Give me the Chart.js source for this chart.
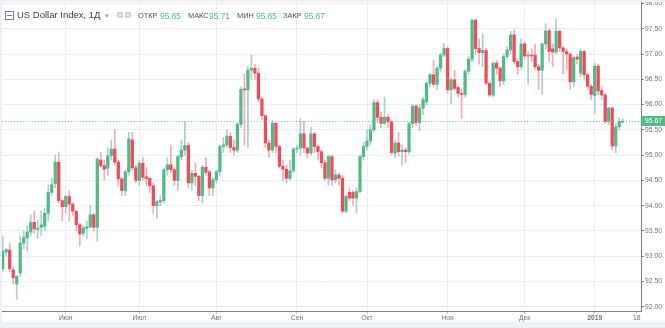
<!DOCTYPE html>
<html>
<head>
<meta charset="utf-8">
<script src="https://cdn.jsdelivr.net/npm/chart.js@4.4.1/dist/chart.umd.min.js"></script>
<style>
html,body{margin:0;padding:0;width:665px;height:328px;overflow:hidden;background:#edf0f4;font-family:"Liberation Sans",Arial,sans-serif;}
#wrap{position:absolute;left:2px;top:2px;width:663px;height:320px;background:#fff;}
#chart{position:absolute;left:0;top:0;}
#legend{position:absolute;left:0;top:0;width:400px;height:26px;}
#legend span{position:absolute;white-space:nowrap;line-height:12px;}
.t{font-size:9.5px;color:#3a3d45;top:7px;}
.k{font-size:7.4px;color:#4a4d55;top:8px;}
.v{font-size:8.4px;color:#53b987;top:7.5px;}
#mbox{position:absolute;left:3px;top:9px;width:7px;height:7px;border:1px solid #7d808a;}
#mbox:after{content:"";position:absolute;left:1px;top:3px;width:5px;height:1px;background:#7d808a;}
.ib{position:absolute;top:10px;width:6px;height:6px;background:#cfd2d8;}
.ib:after{content:"";position:absolute;left:2px;top:2px;width:2px;height:2px;background:#f3f4f6;}
</style>
</head>
<body>
<div id="wrap">
  <canvas id="chart" width="663" height="320"></canvas>
  <div id="legend">
    <div id="mbox"></div>
    <span class="t" style="left:15px">US Dollar Index, 1Д</span>
    <span class="t" style="left:103px;color:#9a9da5;font-size:7px;top:8px">▾</span>
    <div class="ib" style="left:115px"></div>
    <div class="ib" style="left:123px"></div>
    <span class="k" style="left:136px">ОТКР</span><span class="v" style="left:158px" id="vo"></span>
    <span class="k" style="left:186px">МАКС</span><span class="v" style="left:207px" id="vh"></span>
    <span class="k" style="left:235px">МИН</span><span class="v" style="left:254px" id="vl"></span>
    <span class="k" style="left:281px">ЗАКР</span><span class="v" style="left:302px" id="vc"></span>
  </div>
</div>
<script>
// ---- data ----
const dates = [
'2018-05-08','2018-05-09','2018-05-10','2018-05-11','2018-05-14','2018-05-15','2018-05-16','2018-05-17','2018-05-18','2018-05-21','2018-05-22','2018-05-23','2018-05-24','2018-05-25','2018-05-28','2018-05-29','2018-05-30','2018-05-31',
'2018-06-01','2018-06-04','2018-06-05','2018-06-06','2018-06-07','2018-06-08','2018-06-11','2018-06-12','2018-06-13','2018-06-14','2018-06-15','2018-06-18','2018-06-19','2018-06-20','2018-06-21','2018-06-22','2018-06-25','2018-06-26','2018-06-27','2018-06-28','2018-06-29',
'2018-07-02','2018-07-03','2018-07-04','2018-07-05','2018-07-06','2018-07-09','2018-07-10','2018-07-11','2018-07-12','2018-07-13','2018-07-16','2018-07-17','2018-07-18','2018-07-19','2018-07-20','2018-07-23','2018-07-24','2018-07-25','2018-07-26','2018-07-27','2018-07-30','2018-07-31',
'2018-08-01','2018-08-02','2018-08-03','2018-08-06','2018-08-07','2018-08-08','2018-08-09','2018-08-10','2018-08-13','2018-08-14','2018-08-15','2018-08-16','2018-08-17','2018-08-20','2018-08-21','2018-08-22','2018-08-23','2018-08-24','2018-08-27','2018-08-28','2018-08-29','2018-08-30','2018-08-31',
'2018-09-03','2018-09-04','2018-09-05','2018-09-06','2018-09-07','2018-09-10','2018-09-11','2018-09-12','2018-09-13','2018-09-14','2018-09-17','2018-09-18','2018-09-19','2018-09-20','2018-09-21','2018-09-24','2018-09-25','2018-09-26','2018-09-27','2018-09-28',
'2018-10-01','2018-10-02','2018-10-03','2018-10-04','2018-10-05','2018-10-08','2018-10-09','2018-10-10','2018-10-11','2018-10-12','2018-10-15','2018-10-16','2018-10-17','2018-10-18','2018-10-19','2018-10-22','2018-10-23','2018-10-24','2018-10-25','2018-10-26','2018-10-29','2018-10-30','2018-10-31',
'2018-11-01','2018-11-02','2018-11-05','2018-11-06','2018-11-07','2018-11-08','2018-11-09','2018-11-12','2018-11-13','2018-11-14','2018-11-15','2018-11-16','2018-11-19','2018-11-20','2018-11-21','2018-11-22','2018-11-23','2018-11-26','2018-11-27','2018-11-28','2018-11-29','2018-11-30',
'2018-12-03','2018-12-04','2018-12-05','2018-12-06','2018-12-07','2018-12-10','2018-12-11','2018-12-12','2018-12-13','2018-12-14','2018-12-17','2018-12-18','2018-12-19','2018-12-20','2018-12-21','2018-12-24','2018-12-26','2018-12-27','2018-12-28','2018-12-31',
'2019-01-02','2019-01-03','2019-01-04','2019-01-07','2019-01-08','2019-01-09','2019-01-10','2019-01-11','2019-01-14'
];
const openV = [
92.75,93.08,93.12,92.73,92.45,92.67,93.26,93.36,93.48,93.67,93.53,93.57,93.59,93.85,94.26,94.43,94.86,94.10,
93.98,94.18,94.03,93.89,93.62,93.45,93.55,93.58,93.82,93.57,94.90,94.79,94.74,94.99,95.12,94.86,94.53,94.30,94.67,95.30,94.75,
94.50,94.84,94.57,94.54,94.39,94.00,94.07,94.10,94.71,94.81,94.71,94.50,94.97,95.10,95.19,94.45,94.64,94.58,94.20,94.76,94.67,94.35,
94.51,94.67,95.17,95.20,95.37,95.15,95.10,95.61,96.30,96.29,96.68,96.72,96.62,96.11,95.78,95.24,95.10,95.63,95.17,94.78,94.72,94.54,94.69,
95.12,95.14,95.42,95.14,95.04,95.42,95.17,95.07,94.85,94.54,94.97,94.51,94.61,94.54,93.89,94.26,94.26,94.15,94.28,94.97,
95.17,95.28,95.50,96.04,95.75,95.63,95.75,95.66,95.04,95.24,95.07,95.10,95.07,95.62,95.97,95.64,95.93,96.05,96.42,96.59,96.40,96.72,96.98,
97.11,96.29,96.49,96.34,96.22,96.20,96.66,96.90,97.67,97.11,97.03,97.07,96.42,96.19,96.82,96.72,96.47,96.95,97.08,97.38,96.85,96.75,
97.20,96.96,96.98,96.98,96.75,96.68,97.20,97.46,97.10,97.04,97.45,97.12,97.05,97.00,96.45,96.94,96.62,97.05,96.59,96.36,
96.18,96.76,96.28,96.19,95.66,95.93,95.18,95.56,95.65
];
const highV = [
93.40,93.15,93.25,92.78,92.62,93.40,93.50,93.60,93.82,93.90,93.70,93.90,93.95,94.40,94.55,95.00,95.05,94.12,
94.20,94.30,94.05,93.90,93.65,93.60,93.70,94.00,93.85,94.95,95.05,94.90,95.15,95.30,95.50,94.90,94.55,94.70,95.45,95.45,94.80,
94.90,94.95,94.75,94.55,94.45,94.10,94.20,94.75,94.95,95.20,94.75,95.00,95.30,95.67,95.25,94.70,94.85,94.60,94.80,94.95,94.70,94.55,
94.70,95.20,95.35,95.50,95.45,95.30,95.65,96.35,96.60,96.75,96.98,96.80,96.72,96.15,95.80,95.30,95.68,95.65,95.20,94.90,94.80,94.90,95.15,
95.20,95.72,95.67,95.15,95.55,95.45,95.20,95.10,94.90,95.00,95.00,94.70,94.65,94.60,94.22,94.35,94.30,94.35,95.00,95.25,
95.50,95.60,96.10,96.10,95.85,96.15,95.80,95.70,95.30,95.45,95.20,95.15,95.66,96.00,96.00,96.00,96.15,96.45,96.62,96.88,96.76,97.02,97.21,
97.15,96.53,96.68,96.36,96.30,96.70,96.95,97.70,97.69,97.30,97.40,97.12,96.45,96.85,96.88,96.75,97.00,97.15,97.45,97.48,96.90,97.30,
97.25,97.05,97.10,97.20,96.80,97.22,97.60,97.50,97.20,97.70,97.48,97.15,97.10,97.02,96.97,97.00,97.10,97.08,96.62,96.40,
96.82,96.80,96.35,96.22,95.95,95.96,95.62,95.73,95.71
];
const lowV = [
92.70,93.00,92.70,92.45,92.15,92.60,93.15,93.10,93.40,93.45,93.35,93.40,93.50,93.70,94.20,94.35,94.05,93.70,
93.85,93.70,93.80,93.50,93.20,93.40,93.35,93.55,93.50,93.30,94.75,94.50,94.60,94.90,94.80,94.40,94.20,94.20,94.60,94.70,94.45,
94.40,94.50,94.40,94.25,93.85,93.75,94.00,94.05,94.60,94.65,94.40,94.30,94.90,95.00,94.35,94.30,94.40,94.10,94.05,94.60,94.20,94.20,
94.45,94.60,95.05,95.15,95.05,95.00,95.05,95.55,95.20,95.15,96.50,96.50,96.05,95.70,95.15,94.95,95.05,95.05,94.75,94.50,94.45,94.50,94.65,
95.05,95.00,95.05,94.95,95.00,95.05,94.90,94.75,94.50,94.40,94.40,94.45,94.40,93.85,93.85,94.10,94.00,93.85,94.25,94.90,
95.10,95.20,95.45,95.65,95.55,95.60,95.55,95.00,94.95,94.97,94.80,94.85,95.02,95.55,95.58,95.48,95.80,96.00,96.35,96.35,96.30,96.65,96.95,
96.22,96.02,96.28,96.15,95.72,96.15,96.60,96.85,97.00,96.80,96.75,96.38,96.15,96.15,96.60,96.35,96.40,96.90,97.00,96.80,96.60,96.70,
96.90,96.40,96.85,96.70,96.30,96.20,97.10,96.85,96.75,97.00,97.05,96.60,96.70,96.30,96.35,96.80,96.55,96.50,96.30,96.09,
95.83,96.20,96.10,95.62,95.60,95.10,95.04,95.50,95.65
];
const closeV = [
93.10,93.13,92.75,92.57,92.60,93.26,93.37,93.48,93.67,93.54,93.55,93.62,93.85,94.26,94.41,94.86,94.10,93.98,
94.18,94.03,93.89,93.62,93.44,93.56,93.58,93.82,93.57,94.92,94.79,94.72,94.99,95.12,94.86,94.53,94.30,94.67,95.32,94.75,94.50,
94.84,94.56,94.53,94.39,94.00,94.08,94.10,94.71,94.81,94.71,94.50,94.97,95.10,95.19,94.45,94.64,94.58,94.20,94.76,94.66,94.35,94.51,
94.67,95.17,95.20,95.37,95.15,95.10,95.61,96.30,96.29,96.68,96.72,96.62,96.11,95.78,95.24,95.10,95.63,95.17,94.78,94.72,94.54,94.69,95.12,
95.14,95.42,95.14,95.04,95.42,95.17,95.07,94.85,94.54,94.97,94.51,94.61,94.54,93.89,94.18,94.15,94.15,94.28,94.97,95.17,
95.28,95.50,96.04,95.75,95.63,95.75,95.66,95.05,95.24,95.07,95.10,95.07,95.62,95.97,95.64,95.93,96.10,96.42,96.59,96.40,96.72,96.98,97.11,
96.29,96.49,96.32,96.22,96.20,96.66,96.90,97.67,97.11,97.03,97.07,96.42,96.19,96.82,96.72,96.47,96.95,97.08,97.38,96.85,96.75,97.20,
96.96,96.98,96.96,96.75,96.68,97.20,97.46,97.05,97.04,97.45,97.12,97.05,97.00,96.45,96.93,96.90,97.05,96.59,96.36,96.20,
96.76,96.27,96.19,95.66,95.93,95.18,95.56,95.66,95.67
];
const monthLabels = ['Июн','Июл','Авг','Сен','Окт','Ноя','Дек','2019'];
const futureLabel = '18';           // partly visible date label at the right edge (2019-01-18)
const futureTradingDays = 4;        // trading days after the last bar
const yTicks = [92.0,92.5,93.0,93.5,94.0,94.5,95.0,95.5,96.0,96.5,97.0,97.5,98.0];

// ---- derived ----
const last = dates.length - 1;
document.getElementById('vo').textContent = openV[last].toFixed(2);
document.getElementById('vh').textContent = highV[last].toFixed(2);
document.getElementById('vl').textContent = lowV[last].toFixed(2);
document.getElementById('vc').textContent = closeV[last].toFixed(2);

const monthStartIdx = [];
dates.forEach((d,i)=>{ if(i>0 && d.slice(0,7)!==dates[i-1].slice(0,7)) monthStartIdx.push(i); });
const futureIdx = last + futureTradingDays;
const xTicks = monthStartIdx.map((v,k)=>({value:v,label:monthLabels[k]})).concat([{value:futureIdx,label:futureLabel}]);
const labelFor = v => { const t = xTicks.find(t=>t.value===v); return t ? t.label : ''; };

const UP='#53b987', DOWN='#eb4d5c', UPW='#a9cdd2', DOWNW='#f4abb4', GRID='#e8eef3', AX='#7b7e88', TXT='#6f727b';
const isUp = openV.map((o,i)=>closeV[i]>=o);

const priceLine = {
  id:'priceLine',
  afterDatasetsDraw(chart){
    const {ctx, chartArea:a, scales:{y}} = chart;
    const py = Math.round(y.getPixelForValue(closeV[last])) + 0.5;
    ctx.save();
    ctx.strokeStyle = '#6cc49a'; ctx.lineWidth = 1; ctx.setLineDash([1,2]);
    ctx.beginPath(); ctx.moveTo(a.left, py); ctx.lineTo(a.right, py); ctx.stroke();
    ctx.restore();
  },
  afterDraw(chart){
    const {ctx, chartArea:a, scales:{y}} = chart;
    const py = Math.round(y.getPixelForValue(closeV[last]));
    ctx.save();
    ctx.fillStyle = UP;
    ctx.fillRect(a.right, py-5, chart.width - a.right, 10);
    ctx.fillStyle = '#ffffff';
    ctx.font = '6.8px "Liberation Sans", Arial, sans-serif';
    ctx.textBaseline = 'middle'; ctx.textAlign = 'left';
    ctx.fillText(closeV[last].toFixed(2), a.right + 4, py + 0.5);
    ctx.restore();
  }
};

new Chart(document.getElementById('chart'), {
  type:'bar',
  data:{
    datasets:[
      { label:'wick', data: dates.map((d,i)=>({x:i, y:[lowV[i], highV[i]]})),
        backgroundColor: isUp.map(u=>u?UPW:DOWNW), barThickness:1, grouped:false, order:2, minBarLength:1, borderWidth:0 },
      { label:'body', data: dates.map((d,i)=>({x:i, y:[openV[i], closeV[i]]})),
        backgroundColor: isUp.map(u=>u?UP:DOWN), barThickness:2.6, grouped:false, order:1, minBarLength:1, borderWidth:0 }
    ]
  },
  options:{
    responsive:false, animation:false, maintainAspectRatio:false,
    layout:{padding:0, autoPadding:false},
    plugins:{legend:{display:false}, tooltip:{enabled:false}},
    scales:{
      x:{
        type:'linear', position:'bottom', min:-0.2, max:182.22, offset:false,
        afterBuildTicks: s => { s.ticks = xTicks.map(t=>({value:t.value})); },
        afterFit: s => { s.height = 11; s.paddingLeft = 0; s.paddingRight = 0; },
        ticks:{ autoSkip:false, maxRotation:0, minRotation:0, padding:0, color:TXT,
          font: c => ({size:6.8, family:'"Liberation Sans", Arial, sans-serif', weight: (c.tick && labelFor(c.tick.value)==='2019') ? 'bold' : 'normal'}),
          callback: v => labelFor(v) },
        grid:{ offset:false, color: c => (c.tick && c.tick.value===futureIdx) ? 'rgba(0,0,0,0)' : GRID,
          tickColor:'#c3c6cc', tickLength:3 },
        border:{ display:true, color:AX, width:1 }
      },
      y:{
        type:'linear', position:'right', min:91.9149, max:98.0297,
        afterBuildTicks: s => { s.ticks = yTicks.map(v=>({value:v})); },
        afterFit: s => { s.width = 24; s.paddingTop = 0; s.paddingBottom = 0; },
        ticks:{ padding:1, color:TXT, font:{size:6.8, family:'"Liberation Sans", Arial, sans-serif'}, callback: v => Number(v).toFixed(2) },
        grid:{ color:GRID, tickColor:AX, tickLength:3 },
        border:{ display:true, color:AX, width:1 }
      }
    }
  },
  plugins:[priceLine]
});
</script>
</body>
</html>
